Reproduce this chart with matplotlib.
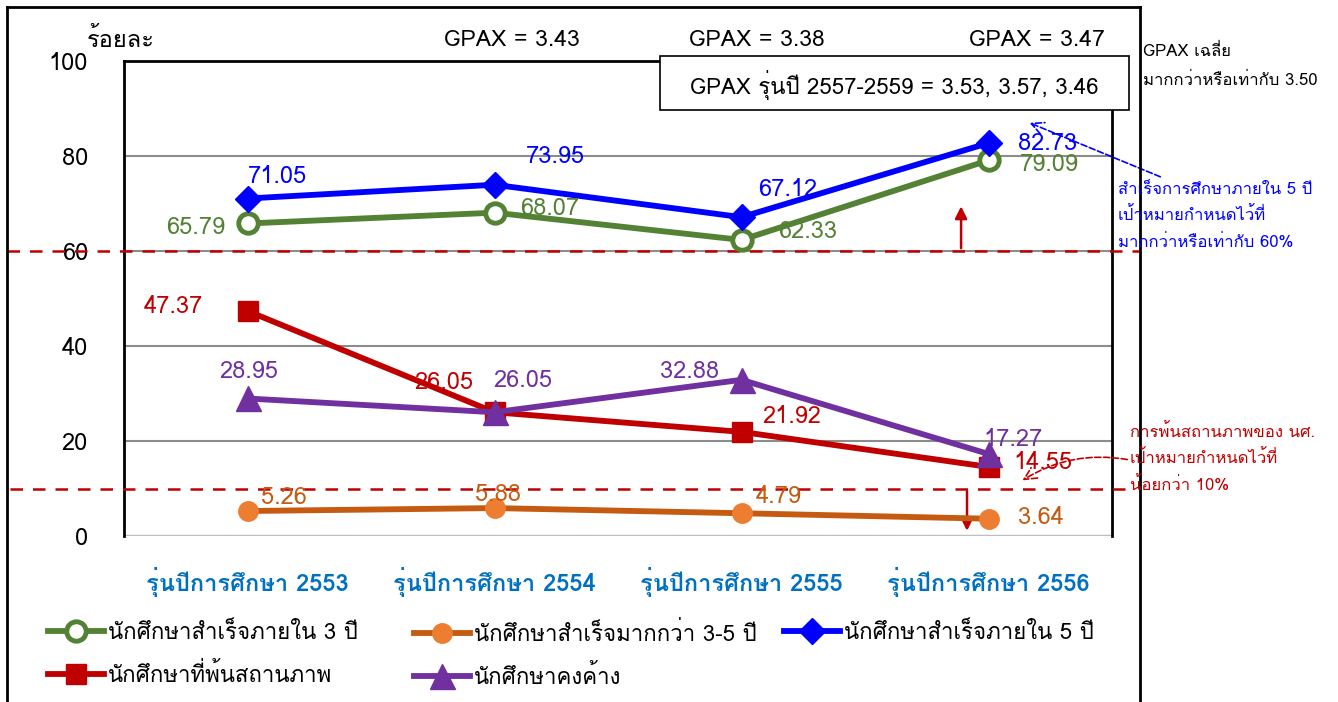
import matplotlib
matplotlib.use("Agg")
import matplotlib.pyplot as plt
from matplotlib import font_manager
from matplotlib.ft2font import FT2Font
from matplotlib.lines import Line2D
from matplotlib.patches import Rectangle

# data
cohorts = ["รุ่นปีการศึกษา 2553", "รุ่นปีการศึกษา 2554", "รุ่นปีการศึกษา 2555", "รุ่นปีการศึกษา 2556"]
grad3 = [65.79, 68.07, 62.33, 79.09]
grad35 = [5.26, 5.88, 4.79, 3.64]
grad5 = [71.05, 73.95, 67.12, 82.73]
dropped = [47.37, 26.05, 21.92, 14.55]
pending = [28.95, 26.05, 32.88, 17.27]
gpax = ["GPAX = 3.43", "GPAX = 3.38", "GPAX = 3.47"]


def thai_font():
    for f in font_manager.fontManager.ttflist:
        try:
            if 0x0E01 in FT2Font(f.fname).get_charmap():
                return f.name
        except Exception:
            pass
    return "DejaVu Sans"


th = thai_font()
plt.rcParams['font.family'] = ['DejaVu Sans', th]

W, H = 1338, 702
fig = plt.figure(figsize=(W / 100, H / 100), dpi=100)


def fx(px):
    return px / W


def fy(py):
    return 1 - py / H


ax = fig.add_axes([fx(124), fy(536), fx(1112) - fx(124), fy(61) - fy(536)])
x = list(range(len(cohorts)))
ax.set_xlim(-0.5, 3.5)
ax.set_ylim(0, 100)

for yv in [20, 40, 60, 80]:
    ax.axhline(yv, color="#8c8c8c", lw=1.5, zorder=1)
ax.axhline(0, color="#bfbfbf", lw=2.5, zorder=1)

for s in ["left", "top", "right"]:
    ax.spines[s].set_linewidth(2)
    ax.spines[s].set_color("black")
ax.spines["bottom"].set_visible(False)

ax.set_yticks([0, 20, 40, 60, 80, 100])
ax.set_yticklabels(["0", "20", "40", "60", "80", "100"], fontsize=17, family=th)
ax.tick_params(axis="y", length=0, pad=26)
ax.set_xticks(x)
ax.set_xticklabels(cohorts, fontsize=17, color="#0070C0", fontweight="bold", family=th)
ax.tick_params(axis="x", length=0, pad=22)

# series
l_g, = ax.plot(x, grad3, color="#548235", lw=4.2, marker="o", ms=14, mfc="white",
               mec="#548235", mew=3.5, zorder=4, label="นักศึกษาสำเร็จภายใน 3 ปี")
l_o, = ax.plot(x, grad35, color="#C55A11", lw=4.2, marker="o", ms=14, mfc="#ED7D31",
               mec="#ED7D31", zorder=4, label="นักศึกษาสำเร็จมากกว่า 3-5 ปี")
l_b, = ax.plot(x, grad5, color="#0000FF", lw=4.2, marker="D", ms=13, zorder=5,
               label="นักศึกษาสำเร็จภายใน 5 ปี")
l_r, = ax.plot(x, dropped, color="#C00000", lw=4.2, marker="s", ms=15, zorder=4,
               label="นักศึกษาที่พ้นสถานภาพ")
l_p, = ax.plot(x, pending, color="#7030A0", lw=4.2, marker="^", ms=18, zorder=5,
               label="นักศึกษาคงค้าง")

# data labels: offsets in pixels (dx, dy)
lab = [
    (grad3, "#548235", [(-52, -4), (55, 4), (66, 8), (61, -4)]),
    (grad5, "#0000FF", [(30, 22), (61, 28), (46, 28), (59, 0)]),
    (grad35, "#C55A11", [(36, 14), (3, 14), (37, 17), (52, 1)]),
    (dropped, "#C00000", [(-74, 4), (-51, 30), (50, 15), (54, 4)]),
    (pending, "#7030A0", [(1, 27), (28, 32), (-52, 8), (24, 14)]),
]
for vals, col, offs in lab:
    for i, v in enumerate(vals):
        ax.annotate(f"{v:.2f}", (i, v), xytext=offs[i], textcoords="offset pixels",
                    ha="center", va="center", fontsize=17, color=col, family=th, zorder=6)

# target lines
for yv, x0, x1 in [(60, -0.118, 1.028), (10, -0.115, 1.02)]:
    ax.plot([x0, x1], [yv, yv], transform=ax.get_yaxis_transform(), color="#C00000",
            lw=1.8, ls=(0, (5, 4)), clip_on=False, zorder=3)

ax.annotate("", xy=(2.889, 70), xytext=(2.889, 60),
            arrowprops=dict(arrowstyle="-|>", color="#C00000", lw=1.8, mutation_scale=18))
ax.annotate("", xy=(2.913, 0.5), xytext=(2.913, 10),
            arrowprops=dict(arrowstyle="-|>", color="#C00000", lw=1.8, mutation_scale=18))

ax.annotate("", xy=(3.156, 87.2), xytext=(3.706, 75.4), annotation_clip=False,
            arrowprops=dict(arrowstyle="->", color="#0000FF", lw=1.2, ls="--",
                            mutation_scale=22))
ax.annotate("", xy=(3.128, 11.4), xytext=(3.573, 16.0), annotation_clip=False,
            arrowprops=dict(arrowstyle="->", color="#C00000", lw=1.2, ls="--",
                            mutation_scale=22, connectionstyle="arc3,rad=0.2"))

# outer border
for xs, ys in [([7, 7], [7, H]), ([7, 1140], [7, 7]), ([1140, 1140], [7, H])]:
    fig.add_artist(Line2D([fx(v) for v in xs], [fy(v) for v in ys], color="black", lw=2))

# texts
fig.text(fx(87), fy(40), "ร้อยละ", fontsize=17, family=th, va="center", ha="left")
for cx, t in zip([512, 757, 1037], gpax):
    fig.text(fx(cx), fy(41), t, fontsize=16.5, family=th, ha="center", va="center")
fig.add_artist(Rectangle((fx(660), fy(110)), fx(1129) - fx(660), fy(56) - fy(110),
                         facecolor="white", edgecolor="black", lw=1.2, zorder=5))
fig.text(fx(894), fy(85), "GPAX รุ่นปี 2557-2559 = 3.53, 3.57, 3.46", fontsize=16,
         family=th, ha="center", va="center", zorder=6)
fig.text(fx(1143), fy(52), "GPAX เฉลี่ย", fontsize=12, family=th, va="center")
fig.text(fx(1143), fy(81), "มากกว่าหรือเท่ากับ 3.50", fontsize=12, family=th, va="center")
for py, t in zip([190, 216, 243], ["สำเร็จการศึกษาภายใน 5 ปี", "เป้าหมายกำหนดไว้ที่",
                                   "มากกว่าหรือเท่ากับ 60%"]):
    fig.text(fx(1118), fy(py), t, fontsize=12, family=th, color="#0000FF", va="center")
for py, t in zip([433, 459, 486], ["การพ้นสถานภาพของ นศ.", "เป้าหมายกำหนดไว้ที่",
                                   "น้อยกว่า 10%"]):
    fig.text(fx(1130), fy(py), t, fontsize=12, family=th, color="#C00000", va="center")

# legend, one column at a time
for px, hs in [(28, [l_g, l_r]), (394, [l_o, l_p]), (764, [l_b])]:
    fig.legend(hs, [h.get_label() for h in hs], loc="upper left",
               bbox_to_anchor=(fx(px), fy(602)), frameon=False,
               prop={"family": th, "size": 16}, handlelength=2.5, handletextpad=0.2,
               labelspacing=0.85)

fig.savefig("out.png", dpi=100)
